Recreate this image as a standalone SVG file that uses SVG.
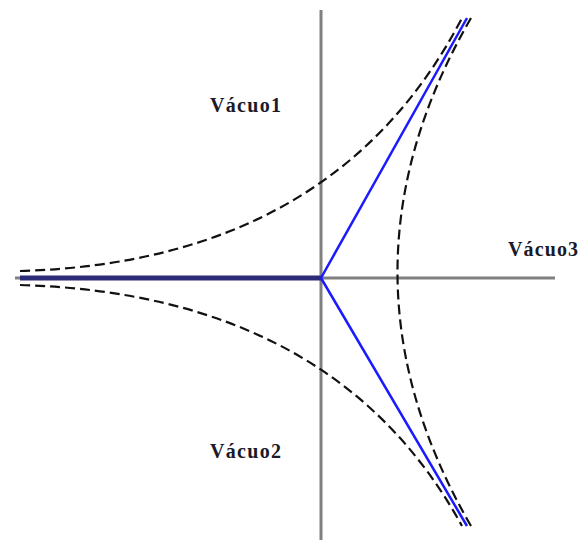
<svg xmlns="http://www.w3.org/2000/svg" width="579" height="542" viewBox="0 0 579 542">
<style>
.axis{stroke:#808080;stroke-width:3;fill:none}
.dash{stroke:#111;stroke-width:2.2;fill:none;stroke-dasharray:10 5}
.blue{stroke:#1a1aff;stroke-width:2.5;fill:none}
.navy{stroke:#2b2b78;stroke-width:5;fill:none}
.lbl{font-family:"Liberation Serif",serif;font-weight:bold;font-size:20px;fill:#1a1a2a}
</style>
<g id="axes">
<line class="axis" x1="321" y1="10" x2="321" y2="540"/>
<line class="axis" x1="15" y1="278" x2="555" y2="278"/>
</g>
<g id="connectors">
<path class="dash" d="M20,271 Q335,262 462,18"/>
<path class="dash" d="M20,285 Q335,294 462,526"/>
<path class="dash" d="M471,18 Q324,272 471,526"/>
<line class="navy" x1="20" y1="278" x2="321" y2="278"/>
<line class="blue" x1="321" y1="278" x2="467" y2="18"/>
<line class="blue" x1="321" y1="278" x2="467" y2="526"/>
</g>
<g id="vacuo1"><text class="lbl" x="210" y="112" textLength="71">Vácuo1</text></g>
<g id="vacuo2"><text class="lbl" x="210" y="458" textLength="71">Vácuo2</text></g>
<g id="vacuo3"><text class="lbl" x="508" y="256" textLength="70">Vácuo3</text></g>
</svg>
